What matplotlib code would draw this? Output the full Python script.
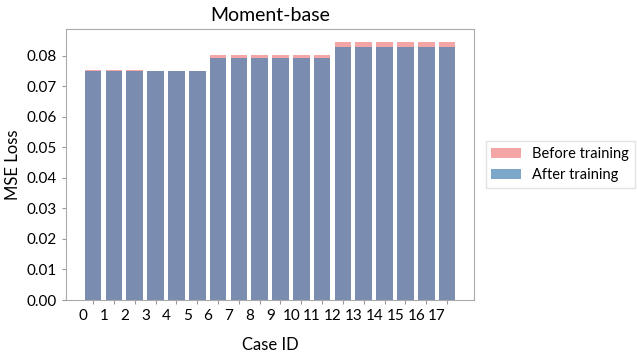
import matplotlib
matplotlib.use('Agg')
from matplotlib import pyplot as plt
from matplotlib import transforms
from matplotlib.ticker import MultipleLocator

# loss per case
case_ids = list(range(18))
before_training = [0.0754, 0.0754, 0.0754, 0.0751, 0.0751, 0.0751,
                   0.0803, 0.0803, 0.0803, 0.0803, 0.0803, 0.0803,
                   0.0845, 0.0845, 0.0845, 0.0845, 0.0845, 0.0845]
after_training = [0.0749, 0.0749, 0.0749, 0.0750, 0.0750, 0.0750,
                  0.0793, 0.0793, 0.0793, 0.0793, 0.0793, 0.0793,
                  0.0828, 0.0828, 0.0828, 0.0828, 0.0828, 0.0828]

plt.rcParams['font.family'] = ['Lato', 'DejaVu Sans']

fig, ax = plt.subplots(figsize=(6.37, 3.53), dpi=100)
fig.subplots_adjust(left=0.104, right=0.744, top=0.918, bottom=0.150)

ax.bar(case_ids, before_training, color='lightcoral', alpha=0.7, label='Before training')
ax.bar(case_ids, after_training, color='steelblue', alpha=0.7, label='After training')

ax.set_title('Moment-base', fontsize=14)
ax.set_xlabel('Case ID', fontsize=12, labelpad=10)
ax.set_ylabel('MSE Loss', fontsize=12)
ax.set_xticks(case_ids)
ax.set_xticklabels([str(c) for c in case_ids], fontsize=11)
ax.yaxis.set_major_locator(MultipleLocator(0.01))
ax.tick_params(axis='y', labelsize=11)
ax.tick_params(colors='#999999', labelcolor='black', length=3)

# the labels in the original sit a bit left of their ticks
shift = transforms.ScaledTranslation(-10 / 100, 0, fig.dpi_scale_trans)
for lbl in ax.get_xticklabels():
    lbl.set_transform(lbl.get_transform() + shift)

for s in ax.spines.values():
    s.set_color('#aaaaaa')

leg = ax.legend(loc='center left', bbox_to_anchor=(1.0, 0.5), fontsize=10.5,
                fancybox=False, borderaxespad=0.8, handlelength=2.0)
leg.get_frame().set_edgecolor('#dddddd')

plt.savefig('out.png')
